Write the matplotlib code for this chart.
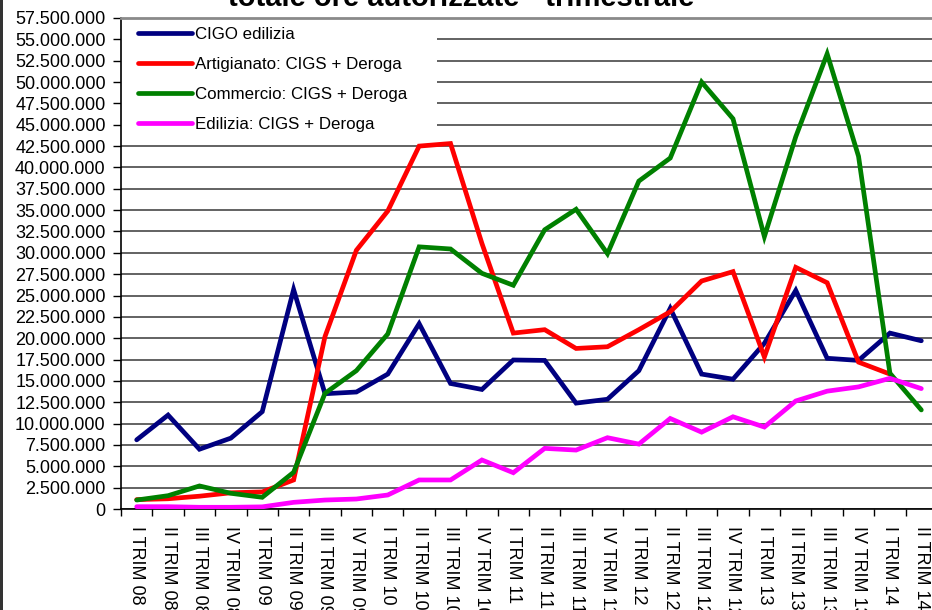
import matplotlib
matplotlib.use("Agg")
import matplotlib.pyplot as plt
import matplotlib.ticker as mticker
from matplotlib.patches import Rectangle
import numpy as np

plt.rcParams["font.family"] = ["Liberation Sans", "DejaVu Sans"]

quarters = [
    "I TRIM 08", "II TRIM 08", "III TRIM 08", "IV TRIM 08",
    "I TRIM 09", "II TRIM 09", "III TRIM 09", "IV TRIM 09",
    "I TRIM 10", "II TRIM 10", "III TRIM 10", "IV TRIM 10",
    "I TRIM 11", "II TRIM 11", "III TRIM 11", "IV TRIM 11",
    "I TRIM 12", "II TRIM 12", "III TRIM 12", "IV TRIM 12",
    "I TRIM 13", "II TRIM 13", "III TRIM 13", "IV TRIM 13",
    "I TRIM 14", "II TRIM 14",
]

# values in millions of hours
cigo_edilizia = [8.1, 11.0, 7.0, 8.3, 11.4, 25.7, 13.5, 13.7, 15.8, 21.7,
                 14.7, 14.0, 17.45, 17.4, 12.4, 12.85, 16.2, 23.5, 15.8, 15.2,
                 19.4, 25.6, 17.65, 17.4, 20.6, 19.7]
artigianato = [1.1, 1.2, 1.5, 1.9, 2.0, 3.4, 20.2, 30.3, 34.9, 42.5,
               42.8, 31.1, 20.6, 21.0, 18.8, 19.0, 21.0, 23.1, 26.7, 27.8,
               17.8, 28.3, 26.5, 17.2, 15.8, np.nan]
commercio = [1.05, 1.56, 2.7, 1.84, 1.37, 4.3, 13.55, 16.2, 20.5, 30.7,
             30.45, 27.6, 26.2, 32.7, 35.1, 29.9, 38.4, 41.1, 50.0, 45.7,
             31.9, 43.6, 53.3, 41.3, 15.9, 11.6]
edilizia = [0.27, 0.27, 0.2, 0.2, 0.25, 0.78, 1.05, 1.17, 1.64, 3.4,
            3.4, 5.74, 4.25, 7.1, 6.9, 8.35, 7.6, 10.6, 9.0, 10.8,
            9.6, 12.65, 13.8, 14.3, 15.3, 14.1]

series = [
    ("CIGO edilizia", cigo_edilizia, "#000080"),
    ("Artigianato: CIGS + Deroga", artigianato, "#FF0000"),
    ("Commercio: CIGS + Deroga", commercio, "#008000"),
    ("Edilizia: CIGS + Deroga", edilizia, "#FF00FF"),
]

W, H = 932, 610
fig = plt.figure(figsize=(W / 100, H / 100), dpi=100)
ax = fig.add_axes([121 / W, 101 / H, 816 / W, 491 / H])

x = np.arange(len(quarters))
for name, vals, color in series:
    ax.plot(x, np.array(vals) * 1e6, color=color, lw=3.4, label=name,
            solid_capstyle="round", solid_joinstyle="miter", zorder=3)

ax.set_xlim(-0.5, len(quarters) - 0.5)
ax.set_ylim(0, 57.5e6)
ax.set_yticks(np.arange(0, 57.5e6 + 1, 2.5e6))
ax.yaxis.set_major_formatter(
    mticker.FuncFormatter(lambda v, p: f"{int(round(v)):,}".replace(",", ".")))
ax.grid(axis="y", color="#383838", lw=1.1, zorder=0)
ax.set_axisbelow(True)

ax.set_xticks(x)
ax.set_xticklabels(quarters, rotation=-90, va="top", ha="center")
ax.set_xticks(np.arange(-0.5, len(quarters)), minor=True)
ax.tick_params(axis="x", which="major", length=0, pad=12, labelsize=13)
ax.tick_params(axis="x", which="minor", length=5, width=1, direction="out")
ax.tick_params(axis="y", length=6, width=1, direction="out", pad=5, labelsize=13)

ax.spines["right"].set_visible(False)
ax.spines["top"].set_color("#8a8a8a")
ax.spines["top"].set_linewidth(2)
ax.spines["left"].set_linewidth(1.2)
ax.spines["bottom"].set_linewidth(1.2)

# white legend area covering the gridlines
ax.add_patch(Rectangle((0, 1 - 118 / 491), 316 / 816, 118 / 491,
                       transform=ax.transAxes, facecolor="white",
                       edgecolor="none", zorder=2))
ax.legend(loc="upper left", bbox_to_anchor=(138 / W, 1 - 27 / H),
          bbox_transform=fig.transFigure, frameon=False, fontsize=12.2,
          handlelength=3.2, handletextpad=0.15, labelspacing=0.89,
          borderpad=0, borderaxespad=0)

fig.text(461 / W, 1 - 6 / H, "totale ore autorizzate - trimestrale",
         ha="center", va="baseline", fontsize=21, fontweight="bold")

fig.patches.append(Rectangle((0, 0), 3 / W, 1, transform=fig.transFigure,
                             facecolor="#333333", edgecolor="none"))

fig.savefig("out.png", dpi=100)
